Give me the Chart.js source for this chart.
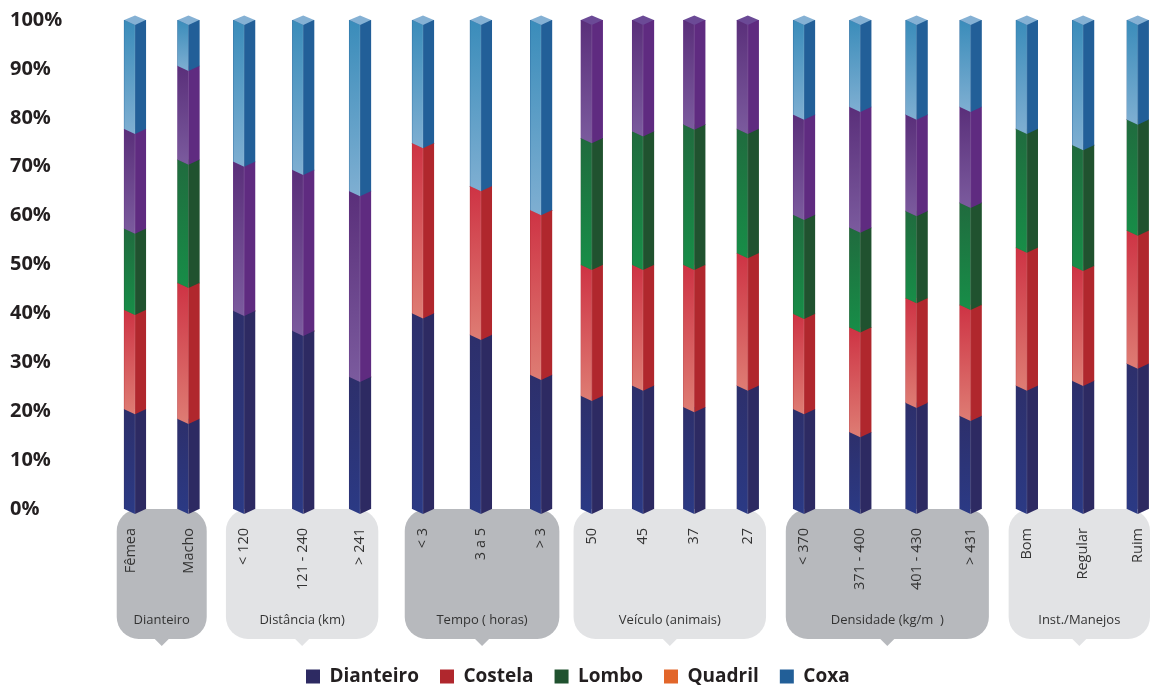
<!DOCTYPE html>
<html lang="pt">
<head>
<meta charset="utf-8">
<title>Lesões por região da carcaça</title>
<script src="https://cdn.jsdelivr.net/npm/chart.js@4"></script>
<style>
  html, body { margin: 0; padding: 0; background: #fff; }
  canvas { display: block; }
</style>
</head>
<body>
<canvas id="grafico" width="1150" height="688"></canvas>
<script>
// Categorias de cada coluna
const categorias = ['Fêmea', 'Macho', '< 120', '121 - 240', '> 241', '< 3', '3 a 5', '> 3', '50', '45', '37', '27',
    '< 370', '371 - 400', '401 - 430', '> 431', 'Bom', 'Regular', 'Ruim'];

// Posição de cada coluna no eixo x (o espaçamento entre colunas não é uniforme)
const posicoes = [0, 0.96, 1.96, 3.02, 4.04, 5.17, 6.21, 7.29, 8.2, 9.12, 10.04, 11.0, 12.01, 13.02, 14.03, 15.0, 16.01, 17.02, 18.0];

// Percentuais por região
const dianteiro = [20.4, 18.4, 40.5, 36.4, 27.0, 40.0, 35.6, 27.4, 23.1, 25.2, 20.8, 25.2, 20.4, 15.7, 21.7, 19.0, 25.2, 26.2, 29.7];
const costela = [20.3, 27.8, 0, 0, 0, 34.8, 30.4, 33.7, 26.8, 24.7, 29.1, 27.1, 19.5, 21.4, 21.4, 22.7, 28.2, 23.5, 27.2];
const lombo = [16.6, 25.2, 0, 0, 0, 0, 0, 0, 25.9, 27.3, 28.7, 25.4, 20.2, 20.4, 17.8, 20.9, 24.3, 24.7, 22.7];
const quadril = [20.4, 19.2, 30.5, 32.9, 38.0, 0, 0, 0, 24.2, 22.8, 21.4, 22.3, 20.5, 24.7, 19.7, 19.6, 0, 0, 0];
const coxa = [22.3, 9.4, 29.0, 30.7, 35.0, 25.2, 34.0, 38.9, 0, 0, 0, 0, 19.4, 17.8, 19.4, 17.8, 22.3, 25.6, 20.4];

// Grupos do rodapé: título e índices da primeira e da última coluna
const grupos = ['Dianteiro', 'Distância (km)', 'Tempo ( horas)', 'Veículo (animais)', 'Densidade (kg/m\u00a0\u00a0)', 'Inst./Manejos'];
const gruposInicio = [0, 2, 5, 8, 12, 16];
const gruposFim = [1, 4, 7, 11, 15, 18];

const regioes = ['Dianteiro', 'Costela', 'Lombo', 'Quadril', 'Coxa'];
const valores = [dianteiro, costela, lombo, quadril, coxa];
const coresLegenda = ['#2d2a62', '#b0272d', '#20522f', '#e2662a', '#225f98'];

// Cores das faces: esquerda (topo e base do degradê) e direita
const faces = [
    { topo: '#2d2f6b', base: '#2b3a85', lado: '#2d2a62' },
    { topo: '#ce3344', base: '#de7d74', lado: '#b0272d' },
    { topo: '#206b3e', base: '#178e48', lado: '#20522f' },
    { topo: '#5a2f7a', base: '#7b5b9e', lado: '#5f2b80' },
    { topo: '#3a8cba', base: '#7fafd2', lado: '#225f98' }
];
const tampas = [null, null, null, '#6b4a96', '#85b1d4'];

const fonte = '"Open Sans", sans-serif';
const PROFUNDIDADE = 5;

// Desenha um trecho da coluna como prisma: duas faces e, no topo, a tampa
function desenhaPrisma(ctx, barra, serie, temTampa) {
    const x = barra.x, m = barra.width / 2, y = barra.y, b = barra.base, d = PROFUNDIDADE;
    const grad = ctx.createLinearGradient(0, y, 0, b + d);
    grad.addColorStop(0, faces[serie].topo);
    grad.addColorStop(1, faces[serie].base);

    ctx.fillStyle = grad;
    ctx.beginPath();
    ctx.moveTo(x - m, y); ctx.lineTo(x, y + d); ctx.lineTo(x, b + d); ctx.lineTo(x - m, b);
    ctx.closePath();
    ctx.fill();

    ctx.fillStyle = faces[serie].lado;
    ctx.beginPath();
    ctx.moveTo(x + m, y); ctx.lineTo(x, y + d); ctx.lineTo(x, b + d); ctx.lineTo(x + m, b);
    ctx.closePath();
    ctx.fill();

    // Aresta central clara
    ctx.strokeStyle = 'rgba(255,255,255,0.14)';
    ctx.lineWidth = 1;
    ctx.beginPath();
    ctx.moveTo(x, y + d); ctx.lineTo(x, b + d);
    ctx.stroke();

    if (temTampa) {
        ctx.fillStyle = tampas[serie] || faces[serie].base;
        ctx.beginPath();
        ctx.moveTo(x - m, y); ctx.lineTo(x, y - d + 0.5); ctx.lineTo(x + m, y); ctx.lineTo(x, y + d);
        ctx.closePath();
        ctx.fill();
    }
}

const pluginPrismas = {
    id: 'prismas',
    afterDatasetsDraw(chart) {
        const ctx = chart.ctx;
        ctx.save();
        valores.forEach((serie, s) => {
            chart.getDatasetMeta(s).data.forEach((barra, i) => {
                if (serie[i] <= 0) return;
                const acima = valores.slice(s + 1).some(v => v[i] > 0);
                desenhaPrisma(ctx, barra, s, !acima);
            });
        });
        ctx.restore();
    }
};

// Painéis cinza do rodapé com os títulos dos grupos
const pluginPaineis = {
    id: 'paineis',
    beforeDraw(chart) {
        const ctx = chart.ctx;
        const meta = chart.getDatasetMeta(0).data;
        const topo = chart.chartArea.bottom, fundo = 639, raio = 22;
        ctx.save();
        grupos.forEach((titulo, g) => {
            const ini = meta[gruposInicio[g]], fim = meta[gruposFim[g]];
            const esq = ini.x - ini.width / 2 - 7.5;
            const dir = Math.min(fim.x + fim.width / 2 + 7.5, chart.width);
            const meio = (esq + dir) / 2;
            ctx.fillStyle = g % 2 === 0 ? '#b7b9bd' : '#e2e3e5';
            ctx.beginPath();
            ctx.roundRect(esq, topo, dir - esq, fundo - topo, raio);
            ctx.fill();
            ctx.beginPath();
            ctx.moveTo(meio - 7, fundo); ctx.lineTo(meio, fundo + 7); ctx.lineTo(meio + 7, fundo);
            ctx.closePath();
            ctx.fill();
            ctx.fillStyle = '#333';
            ctx.font = '13px ' + fonte;
            ctx.textAlign = 'center';
            ctx.textBaseline = 'middle';
            ctx.fillText(titulo, meio, 620.5);
        });
        ctx.restore();
    },
    afterLayout(chart) {
        // Legenda alinhada à esquerda do centro e perto da borda inferior
        chart.legend.left = 285;
        chart.legend.top = 646;
    }
};

const ctx = document.getElementById('grafico').getContext('2d');
new Chart(ctx, {
    type: 'bar',
    data: {
        datasets: regioes.map((nome, s) => ({
            label: nome,
            data: posicoes.map((x, i) => ({ x: x, y: valores[s][i] })),
            backgroundColor: faces[s].lado,
            borderWidth: 0,
            barThickness: 21.5
        }))
    },
    options: {
        responsive: false,
        animation: false,
        layout: { padding: { left: 10, top: 20, right: 0, bottom: 0 } },
        scales: {
            x: {
                type: 'linear',
                stacked: true,
                offset: false,
                min: -0.628,
                max: 18.22,
                grid: { display: false },
                border: { display: false },
                afterBuildTicks(scale) {
                    scale.ticks = posicoes.map((v, i) => ({ value: i === 0 ? v - 0.08 : v }));
                },
                afterFit(scale) {
                    scale.height = scale.chart.height - scale.chart.legend.height - 509;
                    scale.paddingLeft = 0;
                    scale.paddingRight = 0;
                },
                ticks: {
                    autoSkip: false,
                    minRotation: 90,
                    maxRotation: 90,
                    padding: 11,
                    color: '#333',
                    font: { family: fonte, size: 14.5 },
                    callback: (valor, i) => categorias[i]
                }
            },
            y: {
                stacked: true,
                min: 0,
                max: 100,
                grid: { display: false },
                border: { display: false },
                afterFit(scale) { scale.width = 90; },
                ticks: {
                    stepSize: 10,
                    crossAlign: 'far',
                    color: '#231f20',
                    font: { family: fonte, size: 20, weight: 'bold' },
                    callback: v => v + '%'
                }
            }
        },
        plugins: {
            tooltip: { enabled: false },
            legend: {
                position: 'bottom',
                align: 'start',
                labels: {
                    padding: 21,
                    boxWidth: 14,
                    boxHeight: 14,
                    color: '#231f20',
                    font: { family: fonte, size: 19, weight: 'bold' },
                    generateLabels: chart => Chart.defaults.plugins.legend.labels.generateLabels(chart)
                        .map((item, i) => ({ ...item, fillStyle: coresLegenda[i], lineWidth: 0 }))
                }
            }
        }
    },
    plugins: [pluginPaineis, pluginPrismas]
});
</script>
</body>
</html>
